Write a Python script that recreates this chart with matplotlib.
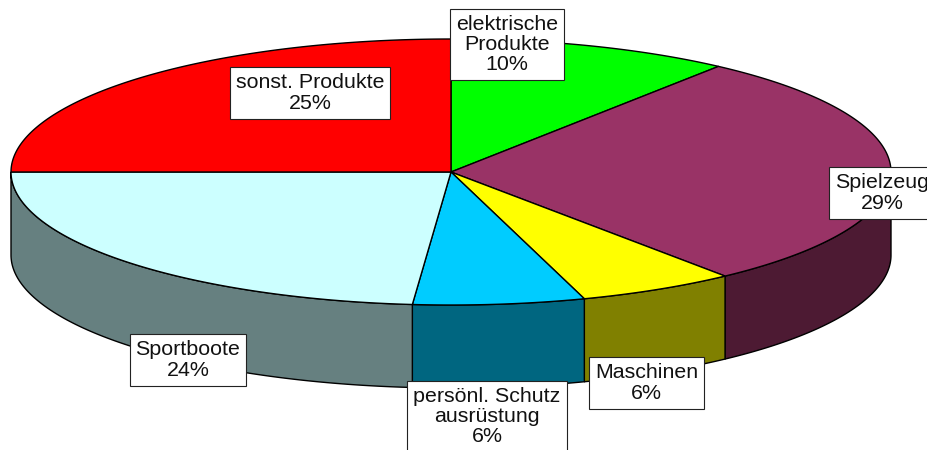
import numpy as np
import matplotlib
matplotlib.use("Agg")
import matplotlib.pyplot as plt
from matplotlib.patches import Polygon

plt.rcParams['font.family'] = ['Liberation Sans', 'DejaVu Sans']

categories = ["elektrische\nProdukte", "Spielzeug", "Maschinen", "persönl. Schutz\nausrüstung", "Sportboote", "sonst. Produkte"]
values = [10.4, 28.9, 5.8, 6.3, 23.6, 25.0]
percent_labels = ["10%", "29%", "6%", "6%", "24%", "25%"]
top_colors = ["#00FF00", "#993366", "#FFFF00", "#00CCFF", "#CCFFFF", "#FF0000"]
side_colors = ["#008000", "#4D1A33", "#808000", "#006680", "#668080", "#800000"]
label_centers = [(507, 44.5), (882, 193), (646.5, 383), (487, 416.5), (188, 360), (310, 93)]

CX, CY, RX, RY, DEPTH = 451, 172, 440, 133, 83

fig = plt.figure(figsize=(9.28, 4.5), dpi=100)
ax = fig.add_axes([0, 0, 1, 1])
ax.set_xlim(0, 928)
ax.set_ylim(450, 0)
ax.axis("off")


def ellipse_point(theta):
    # theta is measured clockwise from the top of the pie
    return CX + RX * np.sin(theta), CY - RY * np.cos(theta)


edges = np.cumsum([0] + values) / sum(values) * 2 * np.pi

# outer side wall (only the front half can be seen)
for i, colour in enumerate(side_colors):
    a = max(edges[i], np.pi / 2)
    b = min(edges[i + 1], 3 * np.pi / 2)
    if b <= a:
        continue
    t = np.linspace(a, b, 120)
    x, y = ellipse_point(t)
    pts = np.column_stack([np.r_[x, x[::-1]], np.r_[y, (y + DEPTH)[::-1]]])
    ax.add_patch(Polygon(pts, closed=True, facecolor=colour, edgecolor="black", linewidth=1.0, zorder=1))

# top surface
for i, colour in enumerate(top_colors):
    t = np.linspace(edges[i], edges[i + 1], 200)
    x, y = ellipse_point(t)
    pts = np.column_stack([np.r_[CX, x], np.r_[CY, y]])
    ax.add_patch(Polygon(pts, closed=True, facecolor=colour, edgecolor="black", linewidth=1.0, zorder=2))

# data labels
for name, pct, (lx, ly) in zip(categories, percent_labels, label_centers):
    ax.text(lx, ly, f"{name}\n{pct}", ha="center", va="center", fontsize=15.4,
            color="#111111", linespacing=1.09, zorder=5,
            bbox=dict(boxstyle="square,pad=0.28", facecolor="white", edgecolor="#222222", linewidth=0.8))

fig.savefig("out.png", dpi=100, facecolor="white")
